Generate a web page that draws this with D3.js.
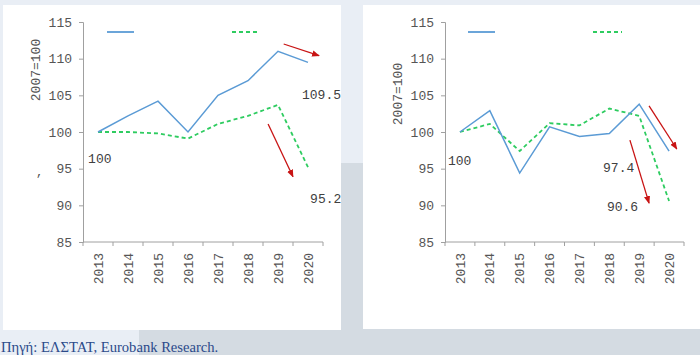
<!DOCTYPE html>
<html>
<head>
<meta charset="utf-8">
<script src="https://cdn.jsdelivr.net/npm/d3@7"></script>
<style>
  html, body { margin: 0; padding: 0; background: #e9eef5; }
  svg { display: block; }
</style>
</head>
<body>
<svg id="chart" width="700" height="355"></svg>
<script>
// ---- data ----
const years = ["2013", "2014", "2015", "2016", "2017", "2018", "2019", "2020"];
const yTicks = [85, 90, 95, 100, 105, 110, 115];
const leftBlue  = [100, 102.2, 104.2, 100.0, 105.0, 107.0, 111.0, 109.5];
const leftGreen = [100, 100.0, 99.8, 99.1, 101.1, 102.2, 103.7, 95.2];
const rightBlue  = [100, 102.9, 94.4, 100.7, 99.4, 99.8, 103.8, 97.4];
const rightGreen = [100, 101.1, 97.4, 101.2, 100.9, 103.2, 102.2, 90.6];
const axisTitle = "2007=100";
const caption = "Πηγή: ΕΛΣΤΑΤ, Eurobank Research.";
// annotation labels: [text, category index position, value position]
const leftLabels  = [["100", -0.33, 95.8], ["109.5", 6.8, 104.5], ["95.2", 7.07, 90.3]];
const rightLabels = [["100", -0.4, 95.5], ["97.4", 4.79, 94.55], ["90.6", 4.92, 89.2]];
// annotation arrows: [[idx, value] start, [idx, value] end]
const leftArrows  = [[[6.19, 112.0], [7.37, 110.4]], [[5.67, 101.1], [6.5, 93.9]]];
const rightArrows = [[[6.33, 103.55], [7.26, 97.68]], [[5.69, 98.9], [6.33, 90.3]]];

const svg = d3.select("#chart");
const FONT = "'Liberation Mono', 'DejaVu Sans Mono', monospace";
const BLUE = "#5b9bd5", GREEN = "#2ecc60", RED = "#c81414";

// background
svg.append("rect").attr("x", 0).attr("y", 0).attr("width", 700).attr("height", 355).attr("fill", "#e9eef5");
svg.append("rect").attr("x", 139).attr("y", 163).attr("width", 561).attr("height", 192).attr("fill", "#d4dbe2");

const defs = svg.append("defs");
defs.append("marker").attr("id", "arrowhead")
  .attr("viewBox", "0 0 10 10").attr("refX", 9).attr("refY", 5)
  .attr("markerWidth", 6).attr("markerHeight", 6).attr("orient", "auto")
  .append("path").attr("d", "M0,1 L10,5 L0,9 Z").attr("fill", RED);

function drawPanel(cfg) {
  const clipId = "clip-" + cfg.id;
  defs.append("clipPath").attr("id", clipId)
    .append("rect").attr("x", cfg.panel[0]).attr("y", cfg.panel[1])
    .attr("width", cfg.panel[2]).attr("height", cfg.panel[3]);

  svg.append("rect").attr("x", cfg.panel[0]).attr("y", cfg.panel[1])
    .attr("width", cfg.panel[2]).attr("height", cfg.panel[3]).attr("fill", "#ffffff");

  const g = svg.append("g").attr("clip-path", `url(#${clipId})`);

  const x = d3.scaleBand().domain(years).range(cfg.xRange).paddingInner(0).paddingOuter(0);
  const y = d3.scaleLinear().domain([85, 115]).range(cfg.yRange);
  const bw = x.bandwidth();
  const xi = d3.scaleLinear().domain([0, years.length - 1])
    .range([x(years[0]) + bw / 2, x(years[years.length - 1]) + bw / 2]);

  // y axis
  const yAxis = d3.axisLeft(y).tickValues(yTicks).tickSize(4).tickPadding(7);
  const ya = g.append("g").attr("transform", `translate(${cfg.xRange[0]},0)`).call(yAxis);
  ya.select(".domain").attr("stroke", "#a0a0a0");
  ya.selectAll(".tick line").attr("stroke", "#a0a0a0");
  ya.selectAll("text").attr("font-family", FONT).attr("font-size", 13).attr("fill", "#555555");

  // x axis with ticks at band boundaries
  const bottom = cfg.yRange[0];
  const xa = g.append("g").attr("transform", `translate(0,${bottom})`);
  xa.append("line").attr("x1", cfg.xRange[0]).attr("x2", cfg.xRange[1])
    .attr("y1", 0).attr("y2", 0).attr("stroke", "#a0a0a0");
  const bounds = years.map(d => x(d)).concat([x(years[years.length - 1]) + bw]);
  xa.selectAll("line.tk").data(bounds).enter().append("line").attr("class", "tk")
    .attr("x1", d => d).attr("x2", d => d).attr("y1", 0).attr("y2", 4).attr("stroke", "#a0a0a0");
  xa.selectAll("text").data(years).enter().append("text")
    .attr("transform", d => `translate(${x(d) + bw / 2},11) rotate(-90)`)
    .attr("text-anchor", "end").attr("dy", "0.35em")
    .attr("font-family", FONT).attr("font-size", 13).attr("fill", "#555555")
    .text(d => d);

  // axis title
  g.append("text")
    .attr("transform", `translate(${cfg.titlePos[0]},${cfg.titlePos[1]}) rotate(-90)`)
    .attr("text-anchor", "middle").attr("dy", "0.35em")
    .attr("font-family", FONT).attr("font-size", 13).attr("fill", "#555555")
    .text(axisTitle);

  // legend swatches (no text)
  g.append("line").attr("x1", cfg.legBlue[0]).attr("x2", cfg.legBlue[1])
    .attr("y1", cfg.legY).attr("y2", cfg.legY).attr("stroke", BLUE).attr("stroke-width", 1.8);
  g.append("line").attr("x1", cfg.legGreen[0]).attr("x2", cfg.legGreen[1])
    .attr("y1", cfg.legY).attr("y2", cfg.legY).attr("stroke", GREEN).attr("stroke-width", 1.8)
    .attr("stroke-dasharray", "4,3");

  const line = d3.line().x((d, i) => x(years[i]) + bw / 2).y(d => y(d));
  g.append("path").datum(cfg.green).attr("d", line).attr("fill", "none")
    .attr("stroke", GREEN).attr("stroke-width", 1.8).attr("stroke-dasharray", "4,3");
  g.append("path").datum(cfg.blue).attr("d", line).attr("fill", "none")
    .attr("stroke", BLUE).attr("stroke-width", 1.5);

  // arrows
  g.selectAll("line.arrow").data(cfg.arrows).enter().append("line").attr("class", "arrow")
    .attr("x1", d => xi(d[0][0])).attr("y1", d => y(d[0][1]))
    .attr("x2", d => xi(d[1][0])).attr("y2", d => y(d[1][1]))
    .attr("stroke", RED).attr("stroke-width", 1.3).attr("marker-end", "url(#arrowhead)");

  // labels
  g.selectAll("text.lbl").data(cfg.labels).enter().append("text").attr("class", "lbl")
    .attr("x", d => xi(d[1])).attr("y", d => y(d[2]))
    .attr("font-family", FONT).attr("font-size", 13).attr("fill", "#404040")
    .text(d => d[0]);

  return g;
}

const gl = drawPanel({
  id: "left", panel: [3, 5, 338, 325],
  xRange: [83, 323], yRange: [242, 22],
  titlePos: [35, 70], legY: 32, legBlue: [107, 134], legGreen: [232, 260],
  blue: leftBlue, green: leftGreen, labels: leftLabels, arrows: leftArrows
});
// stray mark on the left panel
gl.append("text").attr("x", 36).attr("y", 176).attr("font-family", FONT)
  .attr("font-size", 12).attr("fill", "#505050").text(",");

drawPanel({
  id: "right", panel: [363, 5, 337, 324],
  xRange: [445, 684], yRange: [242, 22],
  titlePos: [397, 94], legY: 32, legBlue: [468, 495], legGreen: [593, 622],
  blue: rightBlue, green: rightGreen, labels: rightLabels, arrows: rightArrows
});

svg.append("text").attr("x", 1).attr("y", 352)
  .attr("font-family", "'Liberation Serif', 'Times New Roman', serif")
  .attr("font-size", 14.6).attr("fill", "#2b4a8a")
  .text(caption);
</script>
</body>
</html>
